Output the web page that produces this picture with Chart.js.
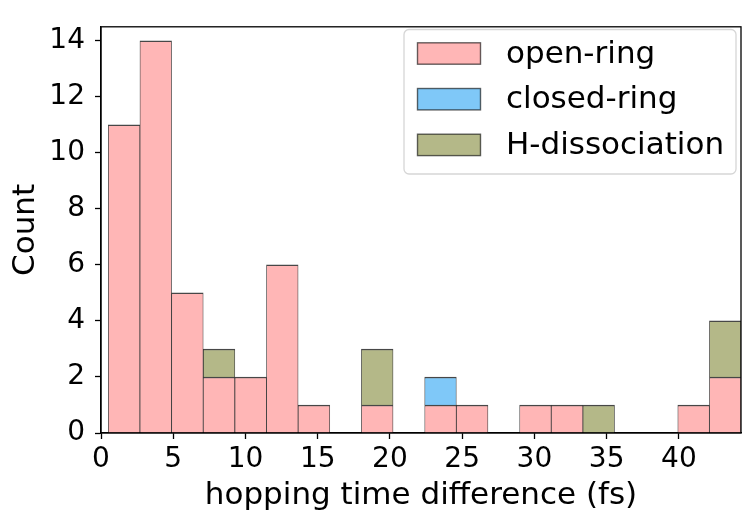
<!DOCTYPE html>
<html>
<head>
<meta charset="utf-8">
<script src="https://cdn.jsdelivr.net/npm/chart.js@4"></script>
<style>
  body { margin: 0; background: #fff; }
</style>
</head>
<body>
<canvas id="myChart" width="745" height="515"></canvas>
<script>
'use strict';

// histogram bins (centers, fs) - 20 bins of ~2.19 fs starting at 0.5
var binCenters = [1.60, 3.79, 5.98, 8.17, 10.36, 12.55, 14.74, 16.93, 19.12, 21.31,
  23.50, 25.69, 27.88, 30.07, 32.26, 34.45, 36.64, 38.83, 41.02, 43.21];
var openRing = [11, 14, 5, 2, 2, 6, 1, null, 1, null, 1, 1, null, 1, 1, null, null, null, 1, 2];
var closedRing = [null, null, null, null, null, null, null, null, null, null, 1, null, null, null, null, null, null, null, null, null];
var hDissociation = [null, null, null, 1, null, null, null, null, 2, null, null, null, null, null, null, 1, null, null, null, 2];
var seriesNames = ['open-ring', 'closed-ring', 'H-dissociation'];
var xTicks = [0, 5, 10, 15, 20, 25, 30, 35, 40];
var yTicks = [0, 2, 4, 6, 8, 10, 12, 14];

function toPoints(vals) {
  return binCenters.map(function(x, i) { return {x: x, y: vals[i]}; });
}

function makeSet(label, vals, color) {
  return {
    label: label,
    data: toPoints(vals),
    backgroundColor: color,
    borderColor: 'rgba(0,0,0,0.72)',
    borderWidth: {top: 1.5, left: 0.8, right: 0.8, bottom: 0},
    borderSkipped: 'start',
    barPercentage: 1,
    categoryPercentage: 1
  };
}

// spines + legend box drawn by hand (matplotlib style)
var framePlugin = {
  id: 'frame',
  afterDatasetsDraw: function(chart) {
    var ctx = chart.ctx;
    var a = chart.chartArea;
    ctx.save();
    ctx.strokeStyle = '#000';
    ctx.lineWidth = 1.3;
    ctx.strokeRect(a.left, a.top, a.right - a.left, a.bottom - a.top);

    // legend
    var bx = 404, by = 29.5, bw = 332, bh = 144.5;
    ctx.beginPath();
    ctx.roundRect(bx, by, bw, bh, 5);
    ctx.fillStyle = 'rgba(255,255,255,0.8)';
    ctx.fill();
    ctx.strokeStyle = '#d6d6d6';
    ctx.lineWidth = 1.3;
    ctx.stroke();
    ctx.font = '31px "DejaVu Sans"';
    ctx.textBaseline = 'middle';
    chart.data.datasets.forEach(function(ds, i) {
      var cy = 53.5 + i * 45.7;
      ctx.fillStyle = ds.backgroundColor;
      ctx.fillRect(417.5, cy - 10.7, 63, 21.4);
      ctx.strokeStyle = 'rgba(0,0,0,0.6)';
      ctx.lineWidth = 1.4;
      ctx.strokeRect(417.5, cy - 10.7, 63, 21.4);
      ctx.fillStyle = '#000';
      ctx.fillText(ds.label, 506, cy + 1);
    });
    ctx.restore();
  }
};

function makeChart() {
  Chart.defaults.font.family = '"DejaVu Sans"';
  Chart.defaults.color = '#000';
  var ctx = document.getElementById('myChart').getContext('2d');
  var chart = new Chart(ctx, {
    type: 'bar',
    data: {
      datasets: [
        makeSet(seriesNames[0], openRing, '#ffb6b6'),
        makeSet(seriesNames[1], closedRing, '#7fc8f8'),
        makeSet(seriesNames[2], hDissociation, '#b4b888')
      ]
    },
    options: {
      responsive: false,
      animation: false,
      layout: { padding: {top: 13, right: 4, left: 0, bottom: 0} },
      plugins: { legend: { display: false }, tooltip: { enabled: false } },
      scales: {
        x: {
          type: 'linear',
          stacked: true,
          min: 0,
          max: 44.3,
          offset: false,
          grid: { offset: false, drawOnChartArea: false, tickLength: 6, tickColor: '#000', tickWidth: 1.3 },
          border: { display: true, color: '#000', width: 1.3 },
          ticks: { stepSize: 5, font: { size: 28 }, padding: 4, maxRotation: 0 },
          afterBuildTicks: function(scale) {
            scale.ticks = xTicks.map(function(v) { return {value: v}; });
          },
          afterFit: function(scale) { scale.height = 82; },
          title: { display: true, text: 'hopping time difference (fs)', font: { size: 31 }, padding: {top: 0, bottom: 0} }
        },
        y: {
          stacked: true,
          min: 0,
          max: 14.5,
          grid: { drawOnChartArea: false, tickLength: 6, tickColor: '#000', tickWidth: 1.3 },
          border: { display: true, color: '#000', width: 1.3 },
          ticks: { stepSize: 2, font: { size: 28 }, padding: 10 },
          afterBuildTicks: function(scale) {
            scale.ticks = yTicks.map(function(v) { return {value: v}; });
          },
          afterFit: function(scale) { scale.width = 101; },
          title: { display: true, text: 'Count', font: { size: 31 }, padding: {top: 7, bottom: 0} }
        }
      }
    },
    plugins: [framePlugin]
  });
}

makeChart();
</script>
</body>
</html>
